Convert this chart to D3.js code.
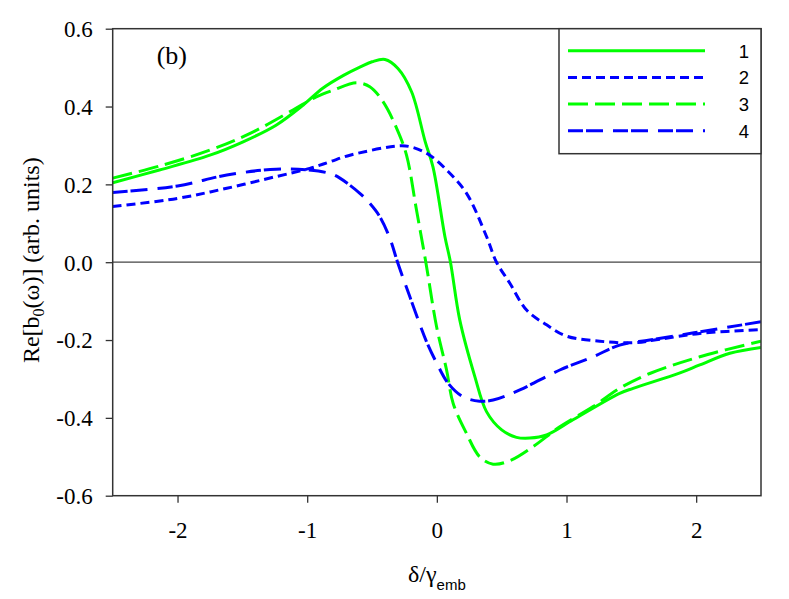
<!DOCTYPE html>
<html>
<head>
<meta charset="utf-8">
<script src="https://cdn.jsdelivr.net/npm/d3@7"></script>
<style>
  body { margin: 0; background: #fff; }
  svg { display: block; }
</style>
</head>
<body>
<div id="chart"></div>
<script>
// Courbes (x = delta/gamma_emb, y = Re[b0])
const curve1 = [[-2.5,0.204],[-2.14,0.237],[-1.75,0.275],[-1.49,0.31],[-1.24,0.352],[-1.03,0.404],[-0.88,0.447],
  [-0.72,0.48],[-0.59,0.502],[-0.5,0.515],[-0.4,0.521],[-0.3,0.498],[-0.195,0.438],[-0.09,0.31],[-0.03,0.245],
  [0.062,0.066],[0.105,0],[0.177,-0.149],[0.293,-0.294],[0.383,-0.384],[0.5,-0.431],[0.614,-0.45],[0.717,-0.452],
  [0.846,-0.444],[1.05,-0.405],[1.41,-0.337],[1.514,-0.324],[1.87,-0.285],[2.028,-0.264],[2.26,-0.234],[2.5,-0.219]];
const curve2 = [[-2.5,0.143],[-2.0,0.164],[-1.62,0.19],[-1.24,0.22],[-0.98,0.241],[-0.825,0.258],[-0.67,0.275],
  [-0.285,0.299],[-0.185,0.295],[-0.054,0.275],[0.075,0.237],[0.229,0.177],[0.383,0.066],[0.46,0],[0.563,-0.054],
  [0.692,-0.123],[0.846,-0.161],[1.0,-0.19],[1.257,-0.203],[1.514,-0.207],[1.72,-0.198],[2.028,-0.183],[2.5,-0.173]];
const curve3 = [[-2.5,0.216],[-2.14,0.247],[-1.75,0.288],[-1.44,0.331],[-1.11,0.391],[-0.93,0.425],[-0.8,0.442],
  [-0.62,0.461],[-0.517,0.451],[-0.414,0.412],[-0.31,0.344],[-0.234,0.275],[-0.157,0.134],[-0.085,0],
  [-0.002,-0.166],[0.075,-0.277],[0.126,-0.363],[0.229,-0.44],[0.33,-0.5],[0.434,-0.519],[0.563,-0.51],
  [0.742,-0.474],[0.948,-0.423],[1.205,-0.371],[1.41,-0.324],[1.642,-0.286],[2.028,-0.243],[2.5,-0.203]];
const curve4 = [[-2.5,0.179],[-2.0,0.196],[-1.62,0.224],[-1.24,0.239],[-1.0,0.237],[-0.825,0.228],[-0.748,0.216],
  [-0.594,0.177],[-0.517,0.151],[-0.44,0.117],[-0.362,0.061],[-0.303,0],[-0.208,-0.089],[-0.08,-0.204],
  [0.0,-0.26],[0.087,-0.311],[0.203,-0.346],[0.33,-0.357],[0.434,-0.354],[0.64,-0.328],[0.948,-0.277],
  [1.205,-0.243],[1.41,-0.213],[1.642,-0.2],[2.028,-0.179],[2.5,-0.153]];

const seriesNames = ["1", "2", "3", "4"];
const xTicks = [-2, -1, 0, 1, 2];
const yTicks = [-0.6, -0.4, -0.2, 0.0, 0.2, 0.4, 0.6];

const series = [
  { name: seriesNames[0], data: curve1, color: "#00ff00", dash: null },
  { name: seriesNames[1], data: curve2, color: "#0000ff", dash: "9,5" },
  { name: seriesNames[2], data: curve3, color: "#00ff00", dash: "20,7" },
  { name: seriesNames[3], data: curve4, color: "#0000ff", dash: "15,3,17,10" }
];

const SERIF = "'Liberation Serif', 'Times New Roman', serif";
const SANS = "'Liberation Sans', Arial, sans-serif";

// Dimensions
const W = 789, H = 599;
const margin = { top: 28.7, right: 28, bottom: 103.3, left: 112.7 };
const width = W - margin.left - margin.right;
const height = H - margin.top - margin.bottom;

const svg = d3.select("#chart").append("svg")
  .attr("width", W)
  .attr("height", H);
const g = svg.append("g")
  .attr("transform", `translate(${margin.left},${margin.top})`);

// Échelles
const x = d3.scaleLinear().domain([-2.5, 2.5]).range([0, width]);
const y = d3.scaleLinear().domain([-0.6, 0.6]).range([height, 0]);

// Ligne du zéro
g.append("line")
  .attr("x1", 0).attr("x2", width)
  .attr("y1", y(0)).attr("y2", y(0))
  .attr("stroke", "#444").attr("stroke-width", 1.2);

// Courbes
const line = d3.line()
  .x(d => x(d[0]))
  .y(d => y(d[1]))
  .curve(d3.curveCatmullRom.alpha(0.5));

g.append("clipPath").attr("id", "clip")
  .append("rect").attr("width", width).attr("height", height);

series.forEach(s => {
  g.append("path")
    .datum(s.data)
    .attr("clip-path", "url(#clip)")
    .attr("d", line)
    .attr("fill", "none")
    .attr("stroke", s.color)
    .attr("stroke-width", 3)
    .attr("stroke-dasharray", s.dash);
});

// Axes (tirets ASCII comme dans l'original)
const xAxis = g.append("g")
  .attr("transform", `translate(0,${height})`)
  .call(d3.axisBottom(x).tickValues(xTicks).tickSize(7).tickPadding(35).tickFormat(d => String(d)));
const yAxis = g.append("g")
  .call(d3.axisLeft(y).tickValues(yTicks).tickSize(7).tickPadding(13).tickFormat(d => d.toFixed(1)));

[xAxis, yAxis].forEach(a => {
  a.attr("font-family", SERIF).attr("font-size", 23);
  a.select(".domain").remove();
  a.selectAll(".tick line").attr("stroke", "#333").attr("stroke-width", 1.3);
  a.selectAll(".tick text").attr("fill", "#000");
});
xAxis.selectAll(".tick text").attr("dy", "0");
yAxis.selectAll(".tick text").attr("dy", "0.34em");

// Cadre
g.append("rect")
  .attr("width", width).attr("height", height)
  .attr("fill", "none").attr("stroke", "#333").attr("stroke-width", 1.5);

// Étiquette (b)
g.append("text")
  .attr("x", 44).attr("y", 35)
  .attr("font-family", SERIF)
  .attr("font-size", 26)
  .text("(b)");

// Titres des axes
const xt = svg.append("text")
  .attr("x", margin.left + x(0)).attr("y", 582)
  .attr("text-anchor", "middle")
  .attr("font-family", SERIF)
  .attr("font-size", 24);
xt.append("tspan").text("δ/γ");
xt.append("tspan").attr("dy", 8).attr("font-family", SANS)
  .attr("font-size", 15).text("emb");

const yt = svg.append("text")
  .attr("transform", `translate(39,${margin.top + y(0) - 2}) rotate(-90)`)
  .attr("text-anchor", "middle")
  .attr("font-family", SERIF)
  .attr("font-size", 24);
yt.append("tspan").text("Re[b");
yt.append("tspan").attr("dy", 5).attr("font-size", 16).text("0");
yt.append("tspan").attr("dy", -5).text("(ω)] (arb. units)");

// Légende
const legW = 202, legH = 125;
const leg = g.append("g").attr("transform", `translate(${width - legW},0)`);
leg.append("rect")
  .attr("width", legW).attr("height", legH)
  .attr("fill", "#fff").attr("stroke", "#333").attr("stroke-width", 1.5);
series.forEach((s, i) => {
  const ly = 22 + i * 26.7;
  leg.append("line")
    .attr("x1", 9).attr("x2", 146)
    .attr("y1", ly).attr("y2", ly)
    .attr("stroke", s.color).attr("stroke-width", 3)
    .attr("stroke-dasharray", s.dash);
  leg.append("text")
    .attr("x", 185).attr("y", ly + 7)
    .attr("text-anchor", "middle")
    .attr("font-family", SANS)
    .attr("font-size", 18.5)
    .text(s.name);
});
</script>
</body>
</html>
